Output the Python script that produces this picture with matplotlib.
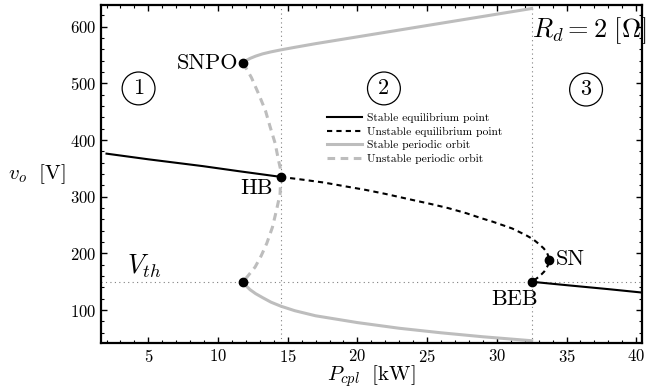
import matplotlib
matplotlib.use("Agg")
from matplotlib import pyplot as plt
from matplotlib.ticker import MultipleLocator

plt.rcParams["font.family"] = "serif"
plt.rcParams["font.serif"] = ["cmr10"]
plt.rcParams["mathtext.fontset"] = "cm"
plt.rcParams["axes.formatter.use_mathtext"] = True

# stable equilibrium (two pieces)
stab_eq_p1 = [2.0, 5.0, 8.9, 11.5, 14.5]
stab_eq_v1 = [376, 366, 354, 345, 335]
stab_eq_p2 = [32.5, 35.0, 38.0, 40.4]
stab_eq_v2 = [150, 144, 137, 131]

# unstable equilibrium, HB -> SN -> BEB
unst_eq_p = [14.5, 16.1, 17.6, 19.2, 20.6, 22.0, 24.0, 25.3, 26.5, 27.8, 28.9, 29.7, 30.4, 31.1, 31.6,
             32.1, 32.6, 33.0, 33.36, 33.58, 33.7, 33.74, 33.7, 33.6, 33.4, 33.2, 32.97, 32.75, 32.5]
unst_eq_v = [335, 330, 325, 318, 312, 305, 294, 287, 280, 271, 262, 256, 250, 244, 238,
             232, 225, 217, 209, 202, 195, 188, 181, 176, 168, 163, 158, 154, 150]

# stable periodic orbit (upper / lower)
orb_p = [11.8, 12.0, 12.3, 12.7, 13.2, 13.8, 14.5, 15.5, 17.0, 18.5, 20.0, 23.0, 26.0, 29.0, 32.5]
orb_up = [536, 540, 544, 548, 552, 555.5, 559, 563.5, 570, 576, 582, 594, 606, 618, 632]
orb_lo = [149, 143, 136, 129, 122, 114, 107, 99, 90, 84, 78, 68, 60, 53, 46]

# unstable periodic orbit, SNPO -> HB -> lower fold
unst_orb_p = [11.8, 12.4, 12.9, 13.4, 13.74, 14.1, 14.33, 14.47, 14.5, 14.45, 14.2, 13.9, 13.5, 13.1, 12.66, 12.2, 11.8]
unst_orb_v = [536, 510, 482, 452, 423, 394, 365, 350, 335, 305, 277, 246, 218, 196, 176, 162, 150]

# special points
pts_p = [11.8, 14.5, 33.74, 32.5, 11.8]
pts_v = [536, 335, 188, 150, 150]

P_HB, P_BEB, V_TH = 14.5, 32.5, 150

fig = plt.figure(figsize=(6.47, 3.92), dpi=100)
ax = fig.add_axes([0.156, 0.125, 0.836, 0.862])

ax.axvline(P_HB, color="gray", ls=(0, (1, 3)), lw=0.8)
ax.axvline(P_BEB, color="gray", ls=(0, (1, 3)), lw=0.8)
ax.axhline(V_TH, color="gray", ls=(0, (1, 3)), lw=0.8)

ax.plot(stab_eq_p1, stab_eq_v1, color="black", lw=1.5, label="Stable equilibrium point")
ax.plot(stab_eq_p2, stab_eq_v2, color="black", lw=1.5)
ax.plot(unst_eq_p, unst_eq_v, color="black", lw=1.5, ls=(0, (2.5, 2)), label="Unstable equilibrium point")
ax.plot(orb_p, orb_up, color="#bdbdbd", lw=2.2, label="Stable periodic orbit")
ax.plot(orb_p, orb_lo, color="#bdbdbd", lw=2.2)
ax.plot(unst_orb_p, unst_orb_v, color="#bdbdbd", lw=2.2, ls=(0, (2.5, 1.8)), label="Unstable periodic orbit")
ax.plot(pts_p, pts_v, "o", color="black", ms=6, ls="none")

ax.set_xlim(1.6, 40.4)
ax.set_ylim(42, 638)
ax.xaxis.set_major_locator(MultipleLocator(5))
ax.xaxis.set_minor_locator(MultipleLocator(1))
ax.yaxis.set_major_locator(MultipleLocator(100))
ax.yaxis.set_minor_locator(MultipleLocator(20))
ax.tick_params(which="both", direction="in", top=True, right=True, labelsize=12)
ax.tick_params(which="major", length=4, width=1)
ax.tick_params(which="minor", length=2, width=0.8)
for s in ax.spines.values():
    s.set_linewidth(1.6)

ax.set_xlabel(r"$P_{cpl}\ \ [\mathrm{kW}]$", fontsize=15, labelpad=-1)
ax.set_ylabel(r"$v_o\ \ [\mathrm{V}]$", fontsize=15, rotation=0, labelpad=24, va="center")

ax.text(11.45, 535, "SNPO", fontsize=16, ha="right", va="center")
ax.text(12.77, 315, "HB", fontsize=16, ha="center", va="center")
ax.text(34.2, 190, "SN", fontsize=16, ha="left", va="center")
ax.text(31.24, 119, "BEB", fontsize=16, ha="center", va="center")
ax.text(3.5, 178, r"$V_{th}$", fontsize=19, ha="left", va="center")
ax.text(32.5, 593, r"$R_d = 2\ [\Omega]$", fontsize=19, ha="left", va="center", clip_on=False)

circ = dict(boxstyle="circle,pad=0.3", fc="white", ec="black", lw=0.9)
ax.text(4.3, 491, "1", fontsize=16, ha="center", va="center", bbox=circ)
ax.text(21.9, 491, "2", fontsize=16, ha="center", va="center", bbox=circ)
ax.text(36.4, 489, "3", fontsize=16, ha="center", va="center", bbox=circ)

ax.legend(loc="upper left", bbox_to_anchor=(0.418, 0.68), frameon=False, fontsize=8.3,
          handlelength=3, labelspacing=0.3, handletextpad=0.5, borderpad=0, borderaxespad=0)

fig.savefig("out.png", dpi=100)
